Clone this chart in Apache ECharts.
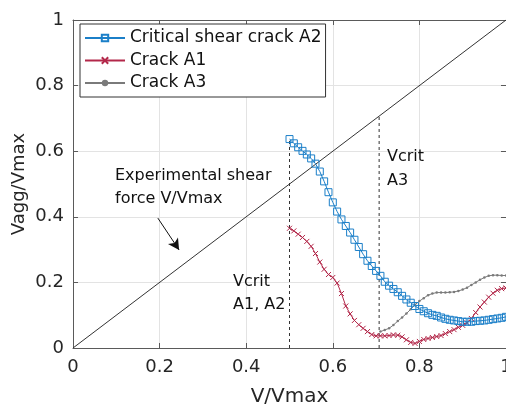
<!DOCTYPE html>
<html>
<head>
<meta charset="utf-8">
<script src="https://cdn.jsdelivr.net/npm/echarts@6/dist/echarts.min.js"></script>
<style>html,body{margin:0;padding:0;background:#fff;}#c{width:506px;height:405px;}</style>
</head>
<body>
<div id="c"></div>
<script>
// ---- data ----
var xs = [0.50,0.51,0.52,0.53,0.54,0.55,0.56,0.57,0.58,0.59,0.60,0.61,0.62,0.63,0.64,0.65,0.66,0.67,0.68,0.69,0.70,0.71,0.72,0.73,0.74,0.75,0.76,0.77,0.78,0.79,0.80,0.81,0.82,0.83,0.84,0.85,0.86,0.87,0.88,0.89,0.90,0.91,0.92,0.93,0.94,0.95,0.96,0.97,0.98,0.99,1.00];
var critA2 = [0.637,0.624,0.612,0.601,0.590,0.578,0.562,0.538,0.508,0.475,0.444,0.416,0.392,0.372,0.352,0.330,0.308,0.286,0.266,0.250,0.235,0.220,0.202,0.190,0.180,0.170,0.159,0.148,0.138,0.128,0.119,0.112,0.106,0.101,0.098,0.093,0.089,0.086,0.084,0.082,0.080,0.080,0.080,0.082,0.083,0.084,0.086,0.088,0.090,0.092,0.095];
var crackA1 = [0.365,0.357,0.347,0.337,0.325,0.310,0.288,0.262,0.240,0.224,0.215,0.198,0.166,0.128,0.104,0.084,0.071,0.060,0.050,0.041,0.037,0.037,0.037,0.038,0.040,0.039,0.034,0.025,0.017,0.014,0.020,0.026,0.029,0.032,0.035,0.038,0.044,0.050,0.056,0.063,0.069,0.077,0.090,0.108,0.125,0.140,0.155,0.167,0.176,0.181,0.183];
var xs3 = [0.71,0.72,0.73,0.74,0.75,0.76,0.77,0.78,0.79,0.80,0.81,0.82,0.83,0.84,0.85,0.86,0.87,0.88,0.89,0.90,0.91,0.92,0.93,0.94,0.95,0.96,0.97,0.98,0.99,1.00];
var crackA3 = [0.050,0.055,0.060,0.070,0.082,0.093,0.105,0.118,0.132,0.143,0.152,0.161,0.166,0.169,0.169,0.169,0.170,0.171,0.174,0.178,0.184,0.192,0.200,0.208,0.215,0.220,0.222,0.222,0.221,0.221];
var diagX = [0, 1];
var diagY = [0, 1];
var vcritX = [0.5, 0.707];
var vcritTop = [0.637, 0.707];
var arrowFrom = [0.196, 0.396];
var arrowTo = [0.245, 0.299];
var xTickLabels = ['0','0.2','0.4','0.6','0.8','1'];
var yTickLabels = ['0','0.2','0.4','0.6','0.8','1'];
var seriesNames = ['Critical shear crack A2','Crack A1','Crack A3'];

// ---- chart ----
var FONT = 'DejaVu Sans';
var blue = '#1b7fc8', red = '#b3284a', gray = '#7a7a7a';
function pairs(xa, ya){ return xa.map(function(x,i){ return [x, ya[i]]; }); }
function tickFmt(list){ return function(v){ var i = Math.round(v/0.2); return list[i] !== undefined ? list[i] : ''; }; }

var chart = echarts.init(document.getElementById('c'), null, {renderer:'canvas'});
var axisCol = '#5a5a5a';
var series = [
  {
    type:'line', name:'diag', data: pairs(diagX, diagY), showSymbol:false, symbol:'none', silent:true,
    lineStyle:{color:'#333', width:1}, z:2,
    markLine:{
      silent:true, symbol:['none','arrow'], symbolSize:[9,11], animation:false,
      lineStyle:{color:'#111', width:1, type:'solid'}, label:{show:false},
      data:[[{coord:arrowFrom},{coord:arrowTo}]]
    }
  }
];
vcritX.forEach(function(x,i){
  series.push({type:'line', name:'vcrit'+i, data:[[x,0],[x,vcritTop[i]]], symbol:'none', silent:true,
    lineStyle:{color:'#333', width:1, type:[3,3]}, z:2});
});
series.push({
  type:'line', name:seriesNames[0], data: pairs(xs, critA2), symbol:'rect', symbolSize:7, showAllSymbol:true,
  lineStyle:{color:blue, width:1}, itemStyle:{color:'rgba(0,0,0,0)', borderColor:blue, borderWidth:1}, z:5
});
series.push({
  type:'line', name:seriesNames[1], data: pairs(xs, crackA1), symbol:'path://M0,0L10,10M10,0L0,10', symbolSize:5, showAllSymbol:true,
  lineStyle:{color:red, width:1}, itemStyle:{color:'rgba(0,0,0,0)', borderColor:red, borderWidth:1}, z:4
});
series.push({
  type:'line', name:seriesNames[2], data: pairs(xs3, crackA3), symbol:'circle', symbolSize:2.5, showAllSymbol:true,
  lineStyle:{color:gray, width:1}, itemStyle:{color:gray}, z:3
});

var option = {
  animation:false,
  backgroundColor:'#fff',
  grid:{left:73, top:20, width:433, height:328, containLabel:false, outerBoundsMode:'none'},
  legend:{
    data:seriesNames, orient:'vertical', left:80, top:24, itemWidth:40, itemHeight:8, itemGap:2.5,
    padding:[4,4,4,4], backgroundColor:'#fff', borderColor:'#333', borderWidth:1,
    textStyle:{fontFamily:FONT, fontSize:17, color:'#111', lineHeight:20}, selectedMode:false
  },
  xAxis:[
    {type:'value', min:0, max:1, interval:0.2, position:'bottom',
     axisLine:{show:true, lineStyle:{color:axisCol, width:1}}, axisTick:{show:true, inside:true, length:5, lineStyle:{color:axisCol}},
     axisLabel:{formatter:tickFmt(xTickLabels), fontFamily:FONT, fontSize:18, color:'#262626', margin:10, showMaxLabel:true, hideOverlap:false},
     splitLine:{show:true, lineStyle:{color:'#e3e3e3', width:1}},
     name:'V/Vmax', nameLocation:'middle', nameGap:39, nameTextStyle:{fontFamily:FONT, fontSize:20, color:'#262626'}},
    {type:'value', min:0, max:1, interval:0.2, position:'top',
     axisLine:{show:true, onZero:false, lineStyle:{color:axisCol, width:1}}, axisTick:{show:true, inside:true, length:5, lineStyle:{color:axisCol}},
     axisLabel:{show:false}, splitLine:{show:false}}
  ],
  yAxis:[
    {type:'value', min:0, max:1, interval:0.2, position:'left',
     axisLine:{show:true, lineStyle:{color:axisCol, width:1}}, axisTick:{show:true, inside:true, length:5, lineStyle:{color:axisCol}},
     axisLabel:{formatter:tickFmt(yTickLabels), fontFamily:FONT, fontSize:18, color:'#262626', margin:9},
     splitLine:{show:true, lineStyle:{color:'#e3e3e3', width:1}},
     name:'Vagg/Vmax', nameLocation:'middle', nameGap:45, nameMoveOverlap:false, nameRotate:90, nameTextStyle:{fontFamily:FONT, fontSize:18, color:'#262626'}},
    {type:'value', min:0, max:1, interval:0.2, position:'right',
     axisLine:{show:true, onZero:false, lineStyle:{color:axisCol, width:1}}, axisTick:{show:true, inside:true, length:5, lineStyle:{color:axisCol}},
     axisLabel:{show:false}, splitLine:{show:false}}
  ],
  graphic:[
    {type:'text', left:115, top:164.5, z:10, style:{text:'Experimental shear\nforce V/Vmax', font:'16px "DejaVu Sans"', fill:'#111', lineHeight:23}},
    {type:'text', left:233, top:270.5, z:10, style:{text:'Vcrit\nA1, A2', font:'16px "DejaVu Sans"', fill:'#111', lineHeight:23}},
    {type:'text', left:387, top:145, z:10, style:{text:'Vcrit\nA3', font:'16px "DejaVu Sans"', fill:'#111', lineHeight:24}}
  ],
  series:series
};
chart.setOption(option);
</script>
</body>
</html>
